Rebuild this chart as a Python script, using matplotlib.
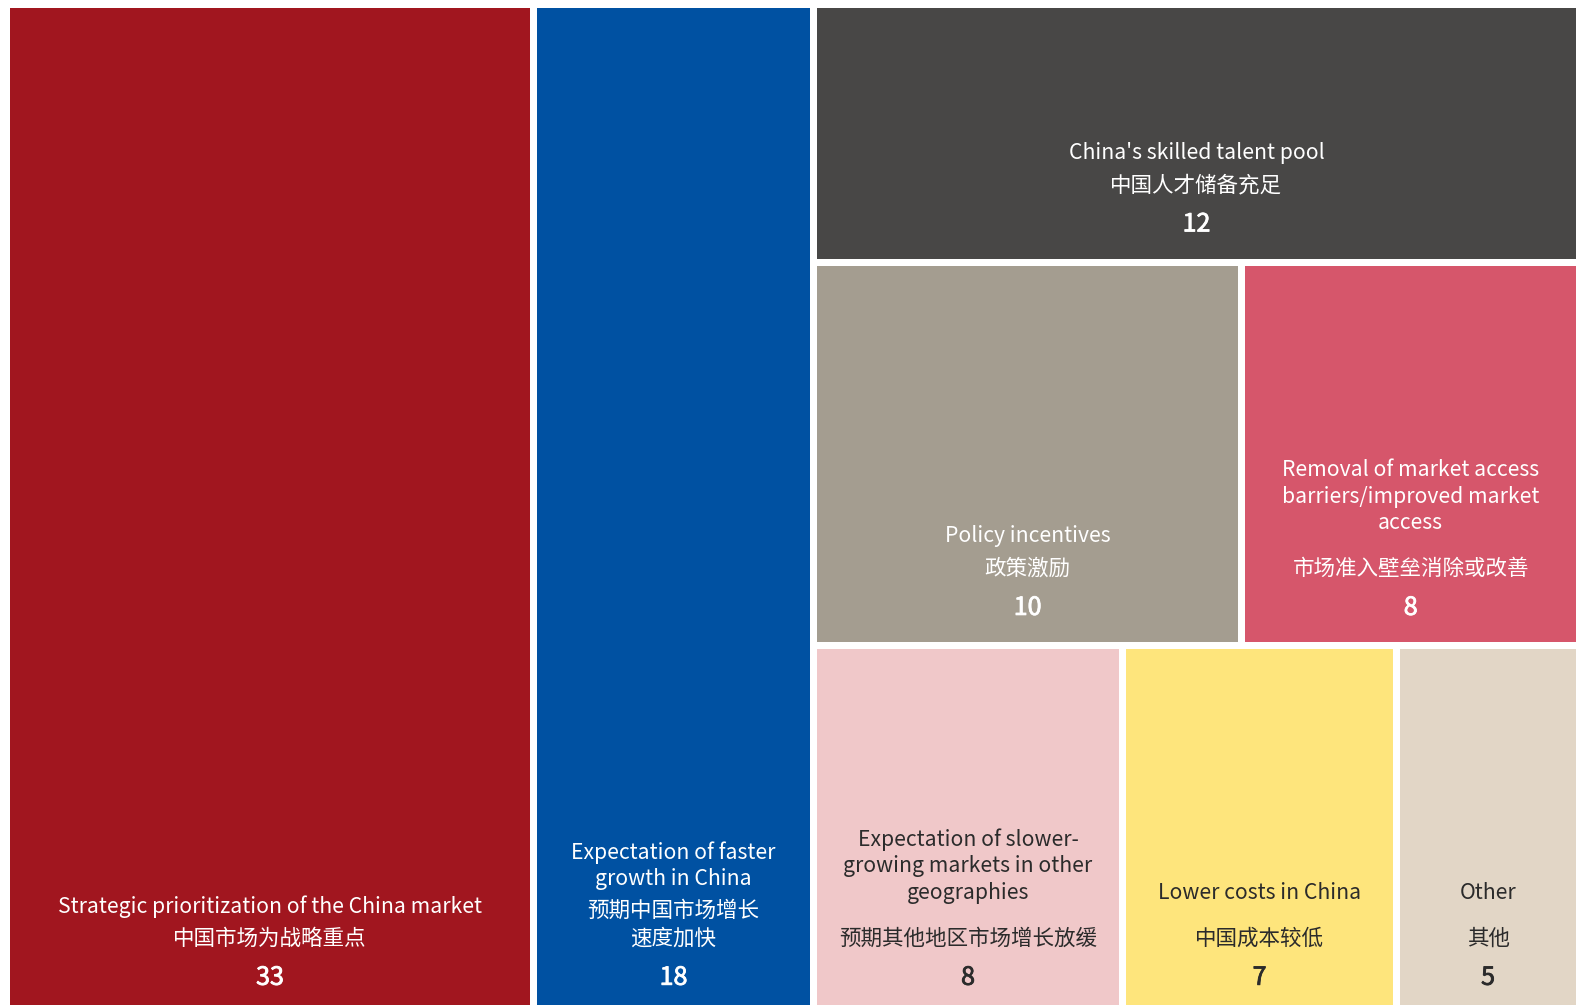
import matplotlib.pyplot as plt
import matplotlib.patheffects as pe
from matplotlib.patches import Rectangle

plt.rcParams['font.family'] = ['Noto Sans CJK SC', 'DejaVu Sans']

# 数据
labels_en = [
    "Strategic prioritization of the China market",
    "Expectation of faster\ngrowth in China",
    "China's skilled talent pool",
    "Policy incentives",
    "Removal of market access\nbarriers/improved market\naccess",
    "Expectation of slower-\ngrowing markets in other\ngeographies",
    "Lower costs in China",
    "Other",
]
labels_cn = [
    "中国市场为战略重点",
    "预期中国市场增长\n速度加快",
    "中国人才储备充足",
    "政策激励",
    "市场准入壁垒消除或改善",
    "预期其他地区市场增长放缓",
    "中国成本较低",
    "其他",
]
values = [33, 18, 12, 10, 8, 8, 7, 5]
# 估计的面积（从图中量出）
sizes = [33.5, 17.8, 12.5, 10.4, 8.2, 7.1, 6.3, 4.2]

colors = ['#A1161F', '#0051A2', '#484746', '#A49D90',
          '#D6566B', '#F0C8C9', '#FEE57C', '#E2D6C6']
text_colors = ['white', 'white', 'white', 'white',
               'white', '#2b2b2b', '#2b2b2b', '#2b2b2b']
wide_gap = [4, 5, 6, 7]   # 英文与中文之间间距较大的格子

# 布局：两列 + 右侧分三行
W, H = 1573, 1004
gap = 7
columns = [[0], [1]]
rest_rows = [[2], [3, 4], [5, 6, 7]]

total = sum(sizes)
rects = {}
x = 0
for col in columns:
    w = W * sum(sizes[i] for i in col) / total
    rects[col[0]] = (x, 0, w, H)
    x += w
rest_w = W - x
rest_total = sum(sizes[i] for row in rest_rows for i in row)
y = 0
for row in rest_rows:
    rs = sum(sizes[i] for i in row)
    h = H * rs / rest_total
    xx = x
    for i in row:
        w = rest_w * sizes[i] / rs
        rects[i] = (xx, y, w, h)
        xx += w
    y += h

fig = plt.figure(figsize=(15.8, 10.06), dpi=100)
ax = fig.add_axes([10 / 1580, (1006 - 8 - H) / 1006, W / 1580, H / 1006])
ax.set_xlim(0, W)
ax.set_ylim(H, 0)
ax.axis('off')

px = 0.72 * 1.0077  # 像素 -> 点

for i in range(len(values)):
    x0, y0, w, h = rects[i]
    ax.add_patch(Rectangle((x0, y0), w - gap, h - gap, facecolor=colors[i],
                           edgecolor='none'))
    cx = x0 + (w - gap) / 2
    bottom = y0 + h - gap
    tc = text_colors[i]
    pad = 27 if abs(y0 + h - H) < 1 else 34

    # 数值
    off = pad
    ax.annotate(str(values[i]), (cx, bottom), xytext=(0, off * px),
                textcoords='offset points', ha='center', va='center',
                fontsize=18, color=tc,
                path_effects=[pe.withStroke(linewidth=0.6, foreground=tc)])
    # 中文
    off += 39
    cn_lines = labels_cn[i].split('\n')
    for j, line in enumerate(reversed(cn_lines)):
        ax.annotate(line, (cx, bottom), xytext=(0, (off + 27 * j) * px),
                    textcoords='offset points', ha='center', va='center',
                    fontsize=15.5, color=tc)
    off += 27 * (len(cn_lines) - 1)
    # 英文
    off += 45 if i in wide_gap else 32
    en_lines = labels_en[i].split('\n')
    for j, line in enumerate(reversed(en_lines)):
        ax.annotate(line, (cx, bottom), xytext=(0, (off + 26.5 * j) * px),
                    textcoords='offset points', ha='center', va='center',
                    fontsize=15.25, color=tc)

fig.savefig('out.png', dpi=100)
